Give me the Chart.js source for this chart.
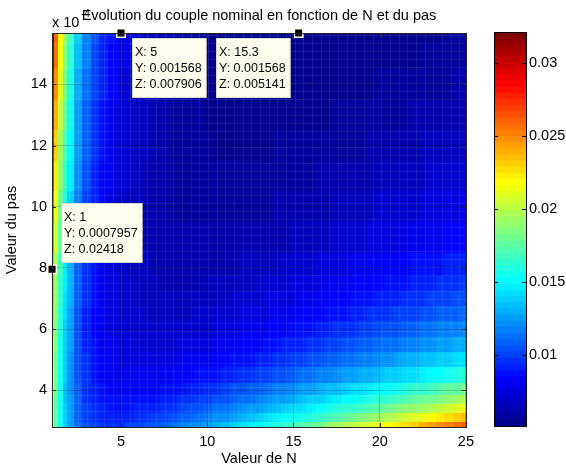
<!DOCTYPE html>
<html lang="fr">
<head>
<meta charset="UTF-8">
<title>Evolution du couple nominal en fonction de N et du pas</title>
<script src="https://cdn.jsdelivr.net/npm/chart.js"></script>
<style>
  body { margin: 0; background: #fff; }
  .wrap { position: relative; width: 566px; height: 467px; }
  #main { position: absolute; left: 0; top: 0; }
  #cbar { position: absolute; left: 480px; top: 0; }
</style>
</head>
<body>
<div class="wrap">
  <canvas id="main" width="480" height="467"></canvas>
  <canvas id="cbar" width="86" height="467"></canvas>
</div>
<script>
const FONT = "'Liberation Sans', Arial, sans-serif";

// grid: N (columns) and pas (rows, bottom to top)
const nValues = [1, 1.25, 1.5, 1.75, 2, 2.5, 3, 3.5, 4, 4.5, 5, 5.5, 6, 6.5, 7, 7.5, 8, 8.5, 9, 9.5, 10, 10.5, 11, 11.5, 12, 12.5, 13, 13.5, 14, 14.5, 15, 15.5, 16, 16.5, 17, 17.5, 18, 18.5, 19, 19.5, 20, 20.5, 21, 21.5, 22, 22.5, 23, 23.5, 24, 24.5, 25];
const pasValues = [0.00028, 0.00031, 0.00034, 0.00037, 0.0004, 0.00045, 0.0005, 0.00055, 0.0006, 0.00065, 0.0007, 0.00075, 0.0008, 0.0009, 0.001, 0.0011, 0.0012, 0.0013, 0.0014, 0.0015, 0.001568];

// couple nominal, one row per pas value
const couple = [
  [0.02120, 0.01760, 0.01529, 0.01370, 0.01257, 0.01114, 0.01034, 0.009915, 0.009714, 0.009666, 0.009723, 0.009859, 0.01005, 0.01029, 0.01057, 0.01087, 0.01119, 0.01154, 0.01189, 0.01227, 0.01265, 0.01304, 0.01344, 0.01385, 0.01427, 0.01469, 0.01511, 0.01554, 0.01598, 0.01642, 0.01685, 0.01730, 0.01774, 0.01819, 0.01864, 0.01910, 0.01955, 0.02000, 0.02046, 0.02092, 0.02138, 0.02184, 0.02230, 0.02277, 0.02323, 0.02370, 0.02416, 0.02463, 0.02510, 0.02556, 0.02603],
  [0.02130, 0.01764, 0.01527, 0.01363, 0.01247, 0.01096, 0.01010, 0.009603, 0.009341, 0.009234, 0.009234, 0.009314, 0.009451, 0.009634, 0.009852, 0.01010, 0.01037, 0.01066, 0.01096, 0.01128, 0.01161, 0.01195, 0.01230, 0.01265, 0.01301, 0.01338, 0.01375, 0.01413, 0.01451, 0.01489, 0.01528, 0.01567, 0.01606, 0.01646, 0.01685, 0.01725, 0.01765, 0.01805, 0.01846, 0.01886, 0.01927, 0.01968, 0.02009, 0.02050, 0.02091, 0.02132, 0.02173, 0.02215, 0.02256, 0.02298, 0.02339],
  [0.02140, 0.01768, 0.01526, 0.01359, 0.01239, 0.01082, 0.009899, 0.009355, 0.009044, 0.008889, 0.008842, 0.008875, 0.008966, 0.009104, 0.009277, 0.009479, 0.009704, 0.009949, 0.01021, 0.01048, 0.01077, 0.01106, 0.01137, 0.01168, 0.01200, 0.01232, 0.01265, 0.01298, 0.01332, 0.01366, 0.01400, 0.01435, 0.01470, 0.01505, 0.01540, 0.01576, 0.01611, 0.01647, 0.01683, 0.01720, 0.01756, 0.01792, 0.01829, 0.01866, 0.01902, 0.01939, 0.01976, 0.02013, 0.02050, 0.02088, 0.02125],
  [0.02150, 0.01773, 0.01527, 0.01356, 0.01233, 0.01071, 0.009743, 0.009155, 0.008803, 0.008607, 0.008521, 0.008515, 0.008568, 0.008668, 0.008804, 0.008969, 0.009157, 0.009365, 0.009589, 0.009826, 0.01008, 0.01033, 0.01060, 0.01088, 0.01116, 0.01145, 0.01174, 0.01203, 0.01234, 0.01264, 0.01295, 0.01326, 0.01357, 0.01389, 0.01420, 0.01452, 0.01485, 0.01517, 0.01549, 0.01582, 0.01615, 0.01648, 0.01681, 0.01714, 0.01747, 0.01780, 0.01814, 0.01847, 0.01881, 0.01914, 0.01948],
  [0.02160, 0.01778, 0.01529, 0.01355, 0.01229, 0.01062, 0.009616, 0.008991, 0.008603, 0.008372, 0.008253, 0.008214, 0.008235, 0.008303, 0.008407, 0.008540, 0.008697, 0.008874, 0.009067, 0.009273, 0.009491, 0.009720, 0.009956, 0.01020, 0.01045, 0.01071, 0.01097, 0.01124, 0.01151, 0.01178, 0.01206, 0.01234, 0.01262, 0.01291, 0.01319, 0.01348, 0.01377, 0.01407, 0.01436, 0.01466, 0.01496, 0.01525, 0.01555, 0.01586, 0.01616, 0.01646, 0.01676, 0.01707, 0.01737, 0.01768, 0.01799],
  [0.02180, 0.01790, 0.01535, 0.01357, 0.01227, 0.01053, 0.009464, 0.008784, 0.008345, 0.008066, 0.007899, 0.007814, 0.007790, 0.007813, 0.007873, 0.007963, 0.008077, 0.008210, 0.008360, 0.008524, 0.008700, 0.008885, 0.009080, 0.009282, 0.009491, 0.009706, 0.009926, 0.01015, 0.01038, 0.01061, 0.01085, 0.01109, 0.01133, 0.01157, 0.01182, 0.01206, 0.01231, 0.01257, 0.01282, 0.01307, 0.01333, 0.01359, 0.01385, 0.01411, 0.01437, 0.01463, 0.01489, 0.01515, 0.01542, 0.01568, 0.01595],
  [0.02200, 0.01803, 0.01543, 0.01361, 0.01227, 0.01047, 0.009360, 0.008636, 0.008155, 0.007837, 0.007632, 0.007510, 0.007450, 0.007438, 0.007463, 0.007518, 0.007598, 0.007697, 0.007813, 0.007944, 0.008086, 0.008239, 0.008400, 0.008569, 0.008745, 0.008927, 0.009114, 0.009306, 0.009501, 0.009701, 0.009904, 0.01011, 0.01032, 0.01053, 0.01074, 0.01096, 0.01118, 0.01140, 0.01162, 0.01184, 0.01206, 0.01229, 0.01251, 0.01274, 0.01297, 0.01320, 0.01343, 0.01366, 0.01389, 0.01413, 0.01436],
  [0.02230, 0.01825, 0.01559, 0.01372, 0.01234, 0.01049, 0.009324, 0.008558, 0.008039, 0.007686, 0.007447, 0.007294, 0.007203, 0.007161, 0.007156, 0.007183, 0.007233, 0.007305, 0.007393, 0.007497, 0.007611, 0.007737, 0.007871, 0.008014, 0.008162, 0.008318, 0.008478, 0.008644, 0.008812, 0.008986, 0.009162, 0.009343, 0.009525, 0.009710, 0.009897, 0.01009, 0.01028, 0.01047, 0.01067, 0.01086, 0.01106, 0.01126, 0.01146, 0.01166, 0.01186, 0.01207, 0.01227, 0.01248, 0.01268, 0.01289, 0.01310],
  [0.02260, 0.01847, 0.01575, 0.01384, 0.01243, 0.01052, 0.009312, 0.008509, 0.007956, 0.007573, 0.007306, 0.007125, 0.007008, 0.006940, 0.006911, 0.006913, 0.006940, 0.006989, 0.007053, 0.007134, 0.007225, 0.007329, 0.007440, 0.007560, 0.007687, 0.007820, 0.007958, 0.008102, 0.008249, 0.008401, 0.008555, 0.008714, 0.008874, 0.009038, 0.009203, 0.009372, 0.009541, 0.009713, 0.009886, 0.01006, 0.01024, 0.01042, 0.01059, 0.01078, 0.01096, 0.01114, 0.01132, 0.01151, 0.01169, 0.01188, 0.01206],
  [0.02300, 0.01878, 0.01599, 0.01403, 0.01258, 0.01060, 0.009349, 0.008507, 0.007921, 0.007508, 0.007213, 0.007006, 0.006864, 0.006773, 0.006721, 0.006702, 0.006707, 0.006734, 0.006778, 0.006838, 0.006909, 0.006992, 0.007084, 0.007184, 0.007291, 0.007405, 0.007524, 0.007648, 0.007776, 0.007909, 0.008044, 0.008184, 0.008325, 0.008470, 0.008617, 0.008767, 0.008917, 0.009071, 0.009225, 0.009382, 0.009539, 0.009699, 0.009859, 0.01002, 0.01018, 0.01035, 0.01051, 0.01068, 0.01084, 0.01101, 0.01118],
  [0.02340, 0.01908, 0.01623, 0.01422, 0.01273, 0.01070, 0.009403, 0.008525, 0.007909, 0.007468, 0.007149, 0.006919, 0.006756, 0.006645, 0.006573, 0.006534, 0.006520, 0.006529, 0.006556, 0.006598, 0.006652, 0.006718, 0.006793, 0.006877, 0.006967, 0.007065, 0.007167, 0.007275, 0.007387, 0.007504, 0.007623, 0.007747, 0.007872, 0.008002, 0.008132, 0.008266, 0.008401, 0.008539, 0.008678, 0.008819, 0.008961, 0.009105, 0.009250, 0.009396, 0.009543, 0.009692, 0.009840, 0.009991, 0.01014, 0.01029, 0.01045],
  [0.02380, 0.01939, 0.01648, 0.01442, 0.01289, 0.01081, 0.009467, 0.008556, 0.007911, 0.007446, 0.007104, 0.006854, 0.006671, 0.006541, 0.006451, 0.006396, 0.006366, 0.006359, 0.006369, 0.006396, 0.006435, 0.006486, 0.006545, 0.006615, 0.006690, 0.006774, 0.006862, 0.006956, 0.007053, 0.007156, 0.007261, 0.007371, 0.007483, 0.007598, 0.007715, 0.007836, 0.007957, 0.008081, 0.008206, 0.008334, 0.008462, 0.008593, 0.008724, 0.008857, 0.008990, 0.009126, 0.009261, 0.009398, 0.009535, 0.009674, 0.009813],
  [0.02420, 0.01970, 0.01672, 0.01462, 0.01306, 0.01092, 0.009541, 0.008599, 0.007929, 0.007441, 0.007078, 0.006810, 0.006609, 0.006463, 0.006358, 0.006287, 0.006242, 0.006221, 0.006218, 0.006231, 0.006257, 0.006295, 0.006342, 0.006398, 0.006462, 0.006532, 0.006608, 0.006690, 0.006775, 0.006866, 0.006959, 0.007057, 0.007157, 0.007261, 0.007366, 0.007475, 0.007584, 0.007697, 0.007811, 0.007927, 0.008043, 0.008162, 0.008282, 0.008404, 0.008525, 0.008649, 0.008773, 0.008899, 0.009025, 0.009152, 0.009280],
  [0.02520, 0.02048, 0.01736, 0.01515, 0.01350, 0.01124, 0.009776, 0.008766, 0.008040, 0.007504, 0.007101, 0.006794, 0.006560, 0.006382, 0.006247, 0.006147, 0.006076, 0.006028, 0.006000, 0.005988, 0.005990, 0.006005, 0.006029, 0.006063, 0.006104, 0.006152, 0.006207, 0.006267, 0.006331, 0.006401, 0.006474, 0.006550, 0.006630, 0.006713, 0.006798, 0.006886, 0.006976, 0.007068, 0.007162, 0.007258, 0.007355, 0.007454, 0.007554, 0.007656, 0.007759, 0.007862, 0.007967, 0.008073, 0.008180, 0.008288, 0.008396],
  [0.02620, 0.02127, 0.01800, 0.01568, 0.01396, 0.01158, 0.01003, 0.008959, 0.008181, 0.007603, 0.007162, 0.006822, 0.006558, 0.006352, 0.006191, 0.006067, 0.005973, 0.005903, 0.005853, 0.005822, 0.005803, 0.005799, 0.005804, 0.005819, 0.005842, 0.005873, 0.005909, 0.005952, 0.005999, 0.006052, 0.006107, 0.006168, 0.006230, 0.006297, 0.006366, 0.006438, 0.006511, 0.006588, 0.006665, 0.006746, 0.006827, 0.006910, 0.006994, 0.007081, 0.007167, 0.007256, 0.007345, 0.007436, 0.007527, 0.007620, 0.007712],
  [0.02730, 0.02214, 0.01872, 0.01629, 0.01448, 0.01197, 0.01034, 0.009199, 0.008370, 0.007748, 0.007271, 0.006899, 0.006607, 0.006375, 0.006190, 0.006044, 0.005929, 0.005839, 0.005771, 0.005721, 0.005686, 0.005663, 0.005653, 0.005652, 0.005659, 0.005674, 0.005696, 0.005724, 0.005757, 0.005795, 0.005837, 0.005883, 0.005933, 0.005985, 0.006041, 0.006099, 0.006160, 0.006222, 0.006287, 0.006354, 0.006423, 0.006493, 0.006565, 0.006638, 0.006712, 0.006788, 0.006865, 0.006943, 0.007022, 0.007102, 0.007182],
  [0.02830, 0.02293, 0.01937, 0.01684, 0.01495, 0.01233, 0.01062, 0.009424, 0.008549, 0.007890, 0.007380, 0.006981, 0.006663, 0.006408, 0.006203, 0.006038, 0.005904, 0.005798, 0.005713, 0.005648, 0.005598, 0.005562, 0.005536, 0.005522, 0.005516, 0.005519, 0.005528, 0.005544, 0.005564, 0.005590, 0.005620, 0.005655, 0.005692, 0.005734, 0.005778, 0.005825, 0.005874, 0.005927, 0.005980, 0.006036, 0.006094, 0.006154, 0.006214, 0.006277, 0.006341, 0.006406, 0.006472, 0.006540, 0.006608, 0.006678, 0.006748],
  [0.02930, 0.02372, 0.02002, 0.01739, 0.01542, 0.01270, 0.01091, 0.009654, 0.008735, 0.008039, 0.007498, 0.007072, 0.006730, 0.006454, 0.006229, 0.006046, 0.005896, 0.005773, 0.005673, 0.005593, 0.005529, 0.005479, 0.005442, 0.005415, 0.005397, 0.005387, 0.005385, 0.005389, 0.005399, 0.005413, 0.005433, 0.005456, 0.005484, 0.005515, 0.005548, 0.005585, 0.005625, 0.005666, 0.005711, 0.005757, 0.005805, 0.005854, 0.005906, 0.005959, 0.006013, 0.006069, 0.006125, 0.006183, 0.006243, 0.006303, 0.006364],
  [0.03040, 0.02460, 0.02074, 0.01800, 0.01595, 0.01311, 0.01124, 0.009927, 0.008961, 0.008228, 0.007656, 0.007203, 0.006838, 0.006541, 0.006297, 0.006097, 0.005931, 0.005794, 0.005680, 0.005587, 0.005511, 0.005449, 0.005400, 0.005363, 0.005334, 0.005314, 0.005302, 0.005296, 0.005296, 0.005302, 0.005312, 0.005327, 0.005345, 0.005368, 0.005393, 0.005422, 0.005453, 0.005487, 0.005522, 0.005561, 0.005600, 0.005643, 0.005686, 0.005731, 0.005778, 0.005826, 0.005875, 0.005926, 0.005977, 0.006030, 0.006083],
  [0.03140, 0.02539, 0.02140, 0.01856, 0.01644, 0.01349, 0.01154, 0.01017, 0.009166, 0.008399, 0.007798, 0.007321, 0.006934, 0.006619, 0.006358, 0.006142, 0.005961, 0.005811, 0.005684, 0.005580, 0.005492, 0.005420, 0.005360, 0.005313, 0.005274, 0.005245, 0.005223, 0.005209, 0.005200, 0.005198, 0.005199, 0.005206, 0.005217, 0.005231, 0.005248, 0.005270, 0.005293, 0.005319, 0.005347, 0.005379, 0.005411, 0.005446, 0.005482, 0.005520, 0.005560, 0.005601, 0.005643, 0.005687, 0.005731, 0.005777, 0.005824],
  [0.03210, 0.02595, 0.02186, 0.01895, 0.01677, 0.01375, 0.01176, 0.01035, 0.009315, 0.008524, 0.007905, 0.007411, 0.007010, 0.006682, 0.006410, 0.006183, 0.005994, 0.005834, 0.005700, 0.005587, 0.005492, 0.005413, 0.005347, 0.005293, 0.005249, 0.005214, 0.005187, 0.005167, 0.005153, 0.005145, 0.005142, 0.005143, 0.005149, 0.005158, 0.005171, 0.005187, 0.005206, 0.005228, 0.005252, 0.005278, 0.005306, 0.005337, 0.005369, 0.005402, 0.005438, 0.005474, 0.005513, 0.005552, 0.005593, 0.005634, 0.005677]
];

const nTicks = [5, 10, 15, 20, 25];
const pasTicks = [0.0004, 0.0006, 0.0008, 0.001, 0.0012, 0.0014];
const zTicks = [0.01, 0.015, 0.02, 0.025, 0.03];

// data tips shown on the figure
const tipN = [5, 15.3, 1];
const tipPas = [0.001568, 0.001568, 0.0007957];
const tipZ = [0.007906, 0.005141, 0.02418];

const zMin = Math.min(...couple.flat());
const zMax = Math.max(...couple.flat());

// MATLAB jet(64)
function jet(i) {
  const k = i + 1;
  const r = k < 25 ? 0 : k <= 40 ? (k - 24) / 16 : k <= 56 ? 1 : (72 - k) / 16;
  const g = k < 9 ? 0 : k <= 24 ? (k - 8) / 16 : k <= 40 ? 1 : k <= 55 ? (56 - k) / 16 : 0;
  const b = k <= 8 ? (k + 8) / 16 : k <= 24 ? 1 : k <= 39 ? (40 - k) / 16 : 0;
  return 'rgb(' + Math.round(r * 255) + ',' + Math.round(g * 255) + ',' + Math.round(b * 255) + ')';
}
function colorFor(z) {
  const i = Math.floor((z - zMin) / (zMax - zMin) * 64);
  return jet(Math.max(0, Math.min(63, i)));
}
function edges(vals, lo, hi) {
  return vals.map((v, i) => [
    i === 0 ? lo : (vals[i - 1] + v) / 2,
    i === vals.length - 1 ? hi : (v + vals[i + 1]) / 2
  ]);
}

const heatmap = {
  id: 'heatmap',
  beforeDraw(chart) {
    const {ctx, chartArea: a, scales: {x, y}} = chart;
    const xe = edges(nValues, x.min, x.max);
    const ye = edges(pasValues, y.min, y.max);
    ctx.save();
    couple.forEach((row, j) => {
      const y0 = Math.round(y.getPixelForValue(ye[j][0]));
      const y1 = Math.round(y.getPixelForValue(ye[j][1]));
      row.forEach((z, i) => {
        const x0 = Math.round(x.getPixelForValue(xe[i][0]));
        const x1 = Math.round(x.getPixelForValue(xe[i][1]));
        ctx.fillStyle = colorFor(z);
        ctx.fillRect(x0, y1, x1 - x0, y0 - y1);
      });
    });
    // faint surface mesh, like the faceted surface of the original
    ctx.strokeStyle = 'rgba(255,255,255,0.10)';
    ctx.lineWidth = 1;
    ctx.beginPath();
    for (let px = Math.round(a.left) + 8.5; px < a.right; px += 8.67) {
      ctx.moveTo(Math.round(px) + 0.5, a.top); ctx.lineTo(Math.round(px) + 0.5, a.bottom);
    }
    for (let py = Math.round(a.bottom) - 8; py > a.top; py -= 8) {
      ctx.moveTo(a.left, py + 0.5); ctx.lineTo(a.right, py + 0.5);
    }
    ctx.stroke();
    ctx.restore();
  },
  afterDatasetsDraw(chart) {
    const {ctx, scales: {x, y}} = chart;
    ctx.save();
    ctx.font = '12.5px ' + FONT;
    ctx.textBaseline = 'middle';
    tipN.forEach((n, i) => {
      const px = x.getPixelForValue(n);
      const py = y.getPixelForValue(tipPas[i]);
      const lines = ['X: ' + n, 'Y: ' + tipPas[i], 'Z: ' + tipZ[i]];
      const w = Math.max(...lines.map(l => ctx.measureText(l).width)) + 8;
      const h = 60;
      let bx, by;
      if (i === 0) { bx = px + 11; by = py + 5; }
      else if (i === 1) { bx = px - 8 - w; by = py + 5; }
      else { bx = px + 9; by = py - 6 - h; }
      bx = Math.round(bx); by = Math.round(by);
      ctx.fillStyle = 'rgb(255,255,238)';
      ctx.fillRect(bx, by, w, h);
      ctx.strokeStyle = 'rgba(0,0,0,0.15)';
      ctx.lineWidth = 1;
      ctx.strokeRect(bx + 0.5, by + 0.5, w - 1, h - 1);
      ctx.fillStyle = '#000';
      lines.forEach((l, k) => ctx.fillText(l, bx + 3, by + 15 + 16 * k));
    });
    ctx.restore();
  },
  afterDraw(chart) {
    const {ctx, chartArea: a, scales: {x, y}} = chart;
    ctx.save();
    ctx.strokeStyle = '#262626';
    ctx.lineWidth = 1;
    ctx.strokeRect(Math.round(a.left) + 0.5, Math.round(a.top) + 0.5, Math.round(a.right - a.left), Math.round(a.bottom - a.top));
    ctx.beginPath();
    nTicks.forEach(v => {
      const px = Math.round(x.getPixelForValue(v)) + 0.5;
      ctx.moveTo(px, a.bottom); ctx.lineTo(px, a.bottom - 4);
      ctx.moveTo(px, a.top); ctx.lineTo(px, a.top + 4);
    });
    pasTicks.forEach(v => {
      const py = Math.round(y.getPixelForValue(v)) + 0.5;
      ctx.moveTo(a.left, py); ctx.lineTo(a.left + 4, py);
      ctx.moveTo(a.right, py); ctx.lineTo(a.right - 4, py);
    });
    ctx.stroke();
    // exponent of the y axis
    ctx.fillStyle = '#000';
    ctx.textBaseline = 'alphabetic';
    ctx.font = '14.5px ' + FONT;
    ctx.fillText('x 10', a.left, 27);
    ctx.font = '10px ' + FONT;
    ctx.fillText('-4', a.left + 29, 17);
    ctx.restore();
  }
};

const tickFont = {family: FONT, size: 14.5};

new Chart(document.getElementById('main'), {
  type: 'scatter',
  data: {
    datasets: [{
      data: tipN.map((n, i) => ({x: n, y: tipPas[i]})),
      pointStyle: 'rect',
      pointRadius: 6,
      backgroundColor: '#000',
      borderColor: 'rgb(255,255,225)',
      borderWidth: 1.5,
      clip: false
    }]
  },
  options: {
    responsive: false,
    animation: false,
    events: [],
    layout: {padding: {top: 0, right: 12, left: 0, bottom: 0}},
    plugins: {
      legend: {display: false},
      tooltip: {enabled: false},
      title: {
        display: true,
        text: 'Evolution du couple nominal en fonction de N et du pas',
        fullSize: false,
        color: '#000',
        font: {family: FONT, size: 14.5, weight: 'normal'},
        padding: {top: 7, bottom: 8.6}
      }
    },
    scales: {
      x: {
        type: 'linear', min: 1, max: 25,
        afterFit: s => { s.height = 40; },
        afterBuildTicks: s => { s.ticks = nTicks.map(v => ({value: v})); },
        ticks: {color: '#000', font: tickFont, padding: 6, maxRotation: 0, autoSkip: false},
        grid: {color: 'rgba(0,0,0,0.2)', drawTicks: false},
        border: {display: false},
        title: {display: true, text: 'Valeur de N', color: '#000', font: tickFont, padding: {top: 0, bottom: -1}}
      },
      y: {
        type: 'linear', min: 0.00028, max: 0.001568,
        afterFit: s => { s.width = 52; },
        afterBuildTicks: s => { s.ticks = pasTicks.map(v => ({value: v})); },
        ticks: {color: '#000', font: tickFont, padding: 5, callback: v => Math.round(v * 1e4)},
        grid: {color: 'rgba(0,0,0,0.2)', drawTicks: false},
        border: {display: false},
        title: {display: true, text: 'Valeur du pas', color: '#000', font: tickFont, padding: {top: 3, bottom: 0}}
      }
    }
  },
  plugins: [heatmap]
});

// colour bar: 64 floating bands on the z scale
const bandStep = (zMax - zMin) / 64;
const bands = [];
for (let i = 0; i < 64; i++) {
  const lo = zMin + i * bandStep;
  bands.push({
    data: [[lo, Math.min(zMax, lo + bandStep * 1.05)]],
    backgroundColor: jet(i),
    borderWidth: 0,
    barPercentage: 1,
    categoryPercentage: 1,
    grouped: false
  });
}

const cbarFrame = {
  id: 'cbarFrame',
  afterDraw(chart) {
    const {ctx, chartArea: a, scales: {y}} = chart;
    ctx.save();
    ctx.strokeStyle = '#000';
    ctx.lineWidth = 1;
    ctx.strokeRect(Math.round(a.left) + 0.5, Math.round(a.top) + 0.5, Math.round(a.right - a.left), Math.round(a.bottom - a.top));
    ctx.beginPath();
    zTicks.forEach(v => {
      const py = Math.round(y.getPixelForValue(v)) + 0.5;
      ctx.moveTo(a.left, py); ctx.lineTo(a.left + 4, py);
      ctx.moveTo(a.right, py); ctx.lineTo(a.right - 4, py);
    });
    ctx.stroke();
    ctx.restore();
  }
};

new Chart(document.getElementById('cbar'), {
  type: 'bar',
  data: {labels: [''], datasets: bands},
  options: {
    responsive: false,
    animation: false,
    events: [],
    layout: {padding: {top: 32, right: 0, left: 14, bottom: 41}},
    plugins: {legend: {display: false}, tooltip: {enabled: false}},
    scales: {
      x: {display: false},
      y: {
        type: 'linear', position: 'right', min: zMin, max: zMax,
        afterFit: s => { s.width = 40; },
        afterBuildTicks: s => { s.ticks = zTicks.map(v => ({value: v})); },
        ticks: {color: '#000', font: tickFont, padding: 3, callback: v => String(v)},
        grid: {display: false, drawTicks: false},
        border: {display: false}
      }
    }
  },
  plugins: [cbarFrame]
});
</script>
</body>
</html>
